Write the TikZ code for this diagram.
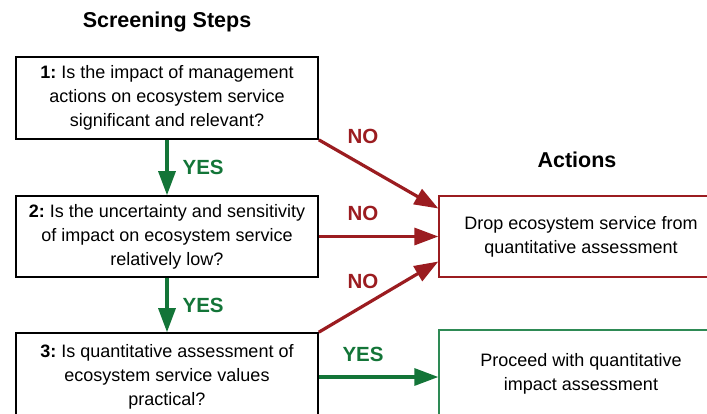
\documentclass[tikz,border=0pt]{standalone}
\usepackage{fontspec}
\setmainfont{Liberation Sans}
\usetikzlibrary{arrows.meta}
\frenchspacing

\definecolor{nored}{HTML}{9B1C20}
\definecolor{yesgreen}{HTML}{137538}
\definecolor{boxgreen}{HTML}{2E8A55}

\tikzset{
  stepbox/.style = {draw, line width = 1.6pt, align = center,
                    minimum width = 302pt, inner sep = 0pt,
                    font = \fontsize{18}{24}\selectfont},
  actbox/.style  = {draw, line width = 1.3pt, align = center,
                    minimum width = 284pt, inner sep = 0pt,
                    font = \fontsize{18}{24}\selectfont},
  noarrow/.style  = {draw = nored, line width = 3.2pt, -{Triangle[length=24pt, width=17pt]}},
  yesarrow/.style = {draw = yesgreen, line width = 3.2pt, -{Triangle[length=24pt, width=17pt]}},
  nolabel/.style  = {text = nored, font = \fontsize{20.5}{22}\selectfont\bfseries, inner sep = 0pt},
  yeslabel/.style = {text = yesgreen, font = \fontsize{20.5}{22}\selectfont\bfseries, inner sep = 0pt},
  heading/.style  = {font = \fontsize{21.5}{24}\selectfont\bfseries}
}

\begin{document}
\begin{tikzpicture}[x = 1pt, y = -1pt]
  \useasboundingbox (0,0) rectangle (707,413);
  \clip (0,0) rectangle (707,413);

  % titles
  \node[heading] at (167, 22)  (screening) {Screening Steps};
  \node[heading] at (577, 160) (actions)   {Actions};

  % screening steps
  \node[stepbox, minimum height = 82pt] at (167, 98)    (s1) {\textbf{1:} Is the impact of management\\ actions on ecosystem service\\ significant and relevant?};
  \node[stepbox, minimum height = 81pt] at (167, 236.5) (s2) {\textbf{2:} Is the uncertainty and sensitivity\\ of impact on ecosystem service\\ relatively low?};
  \node[stepbox, minimum height = 88pt] at (167, 377)   (s3) {\textbf{3:} Is quantitative assessment of\\ ecosystem service values\\ practical?};

  % actions
  \node[actbox, draw = nored, minimum height = 81pt]    at (581, 236.5) (drop) {Drop ecosystem service from\\ quantitative assessment};
  \node[actbox, draw = boxgreen, minimum height = 88pt] at (581, 374)   (proc) {Proceed with quantitative\\ impact assessment};

  % yes arrows
  \draw[yesarrow] (s1) -- node[yeslabel, anchor = west, xshift = 14pt] {YES} (s2);
  \draw[yesarrow] (s2) -- node[yeslabel, anchor = west, xshift = 14pt] {YES} (s3);
  \draw[yesarrow] (s3.east) -- node[yeslabel, pos = 0.37, above = 14pt] {YES} (s3.east -| proc.west);

  % no arrows
  \draw[noarrow] (s1.south east) -- node[nolabel, pos = 0.37, above = 20pt] {NO} ([yshift = 28pt]drop.west);
  \draw[noarrow] (s2.east)       -- node[nolabel, pos = 0.37, above = 14pt] {NO} (drop.west);
  \draw[noarrow] (s3.north east) -- node[nolabel, pos = 0.37, above = 16pt] {NO} ([yshift = -25pt]drop.west);
\end{tikzpicture}
\end{document}
